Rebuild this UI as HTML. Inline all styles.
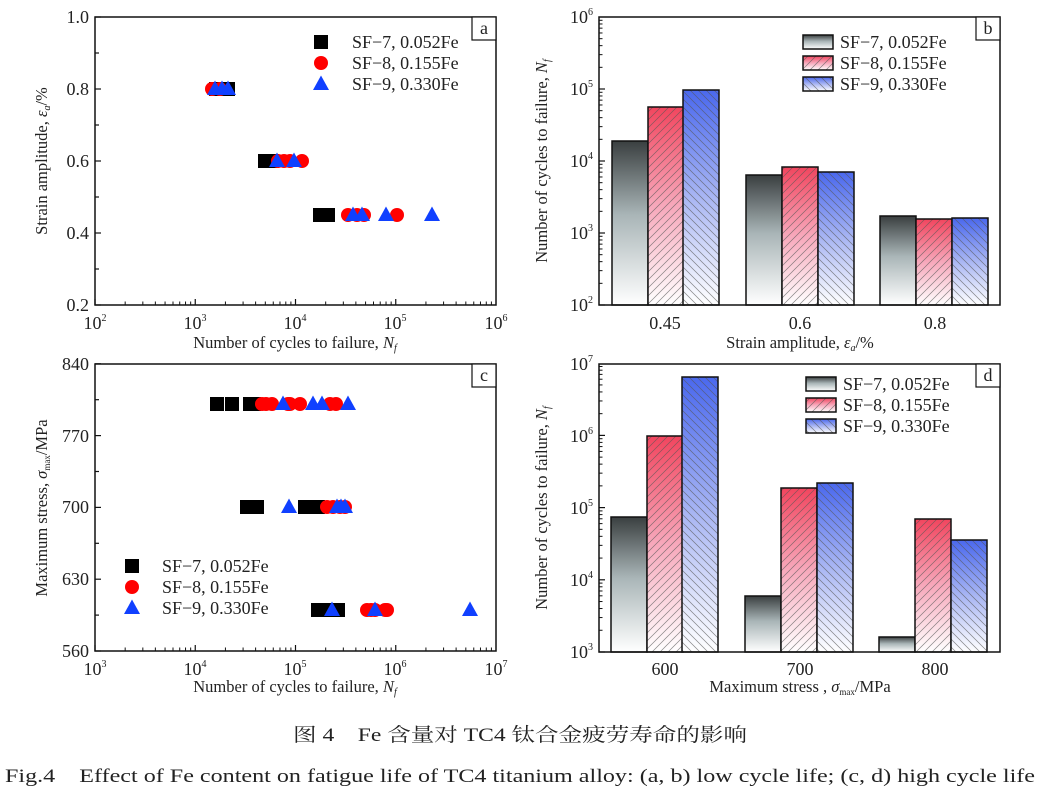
<!DOCTYPE html>
<html><head><meta charset="utf-8"><style>
html,body{margin:0;padding:0;background:#fff;}
svg{display:block;font-family:"Liberation Serif","Noto Serif CJK SC",serif;}
.t{font-size:18px;fill:#222;}
.ti{font-size:16.5px;fill:#222;}
.lg{font-size:18px;fill:#222;}
</style></head><body>
<svg id="s" width="1040" height="795" viewBox="0 0 1040 795" xmlns="http://www.w3.org/2000/svg">
<defs>
<linearGradient id="gk" x1="0" y1="0" x2="0" y2="1"><stop offset="0" stop-color="#3a3f40"/><stop offset="0.45" stop-color="#a9b5b7"/><stop offset="1" stop-color="#ffffff"/></linearGradient>
<linearGradient id="gr" x1="0" y1="0" x2="0" y2="1"><stop offset="0" stop-color="#f2455e"/><stop offset="0.5" stop-color="#f7a8bb"/><stop offset="1" stop-color="#ffffff"/></linearGradient>
<linearGradient id="gb" x1="0" y1="0" x2="0" y2="1"><stop offset="0" stop-color="#4a68ee"/><stop offset="0.5" stop-color="#a9b6f3"/><stop offset="1" stop-color="#ffffff"/></linearGradient>
<pattern id="hr" width="8" height="8" patternUnits="userSpaceOnUse"><path d="M-2,2 L2,-2 M0,8 L8,0 M6,10 L10,6" stroke="#555" stroke-width="0.7" opacity="0.7"/></pattern>
<pattern id="hb" width="8" height="8" patternUnits="userSpaceOnUse"><path d="M-2,6 L2,10 M0,0 L8,8 M6,-2 L10,2" stroke="#555" stroke-width="0.7" opacity="0.7"/></pattern>
</defs>
<g id="g"></g>

<!-- Panel a text -->
<g class="t" text-anchor="end">
<text x="89" y="23">1.0</text><text x="89" y="95">0.8</text><text x="89" y="167">0.6</text><text x="89" y="239">0.4</text><text x="89" y="311">0.2</text>
</g>
<g class="t" text-anchor="middle">
<text x="95" y="329">10<tspan font-size="10" dy="-8">2</tspan></text>
<text x="195" y="329">10<tspan font-size="10" dy="-8">3</tspan></text>
<text x="295" y="329">10<tspan font-size="10" dy="-8">4</tspan></text>
<text x="395" y="329">10<tspan font-size="10" dy="-8">5</tspan></text>
<text x="496" y="329">10<tspan font-size="10" dy="-8">6</tspan></text>
</g>
<text class="ti" x="295" y="348" text-anchor="middle">Number of cycles to failure, <tspan font-style="italic">N</tspan><tspan font-style="italic" font-size="10" dy="3">f</tspan></text>
<text class="ti" transform="translate(47,161) rotate(-90)" text-anchor="middle">Strain amplitude, <tspan font-style="italic">ε</tspan><tspan font-style="italic" font-size="10" dy="3">a</tspan><tspan dy="-3">/%</tspan></text>
<rect x="472" y="17" width="24" height="23" fill="#fff" stroke="#111" stroke-width="1.2"/>
<text class="t" x="484" y="34" text-anchor="middle">a</text>
<g class="lg"><text x="352" y="48">SF−7, 0.052Fe</text><text x="352" y="69">SF−8, 0.155Fe</text><text x="352" y="90">SF−9, 0.330Fe</text></g>

<!-- Panel b text -->
<g class="t" text-anchor="end">
<text x="593" y="23">10<tspan font-size="10" dy="-8">6</tspan></text>
<text x="593" y="95">10<tspan font-size="10" dy="-8">5</tspan></text>
<text x="593" y="167">10<tspan font-size="10" dy="-8">4</tspan></text>
<text x="593" y="239">10<tspan font-size="10" dy="-8">3</tspan></text>
<text x="593" y="311">10<tspan font-size="10" dy="-8">2</tspan></text>
</g>
<g class="t" text-anchor="middle"><text x="665" y="329">0.45</text><text x="800" y="329">0.6</text><text x="935" y="329">0.8</text></g>
<text class="ti" x="800" y="348" text-anchor="middle">Strain amplitude, <tspan font-style="italic">ε</tspan><tspan font-style="italic" font-size="10" dy="3">a</tspan><tspan dy="-3">/%</tspan></text>
<text class="ti" transform="translate(547,161) rotate(-90)" text-anchor="middle">Number of cycles to failure, <tspan font-style="italic">N</tspan><tspan font-style="italic" font-size="10" dy="3">f</tspan></text>
<text class="lg" x="840" y="48">SF−7, 0.052Fe</text><text class="lg" x="840" y="69">SF−8, 0.155Fe</text><text class="lg" x="840" y="90">SF−9, 0.330Fe</text>

<!-- Panel c text -->
<g class="t" text-anchor="end">
<text x="89" y="370">840</text><text x="89" y="442">770</text><text x="89" y="513">700</text><text x="89" y="585">630</text><text x="89" y="657">560</text>
</g>
<g class="t" text-anchor="middle">
<text x="95" y="675">10<tspan font-size="10" dy="-8">3</tspan></text>
<text x="195" y="675">10<tspan font-size="10" dy="-8">4</tspan></text>
<text x="295" y="675">10<tspan font-size="10" dy="-8">5</tspan></text>
<text x="395" y="675">10<tspan font-size="10" dy="-8">6</tspan></text>
<text x="496" y="675">10<tspan font-size="10" dy="-8">7</tspan></text>
</g>
<text class="ti" x="295" y="692" text-anchor="middle">Number of cycles to failure, <tspan font-style="italic">N</tspan><tspan font-style="italic" font-size="10" dy="3">f</tspan></text>
<text class="ti" transform="translate(47,508) rotate(-90)" text-anchor="middle">Maximum stress, <tspan font-style="italic">σ</tspan><tspan font-size="9" dy="3">max</tspan><tspan dy="-3">/MPa</tspan></text>
<g class="lg"><text x="162" y="572">SF−7, 0.052Fe</text><text x="162" y="593">SF−8, 0.155Fe</text><text x="162" y="614">SF−9, 0.330Fe</text></g>

<!-- Panel d text -->
<g class="t" text-anchor="end">
<text x="593" y="370">10<tspan font-size="10" dy="-8">7</tspan></text>
<text x="593" y="442">10<tspan font-size="10" dy="-8">6</tspan></text>
<text x="593" y="514">10<tspan font-size="10" dy="-8">5</tspan></text>
<text x="593" y="586">10<tspan font-size="10" dy="-8">4</tspan></text>
<text x="593" y="658">10<tspan font-size="10" dy="-8">3</tspan></text>
</g>
<g class="t" text-anchor="middle"><text x="665" y="675">600</text><text x="800" y="675">700</text><text x="935" y="675">800</text></g>
<text class="ti" x="800" y="692" text-anchor="middle">Maximum stress , <tspan font-style="italic">σ</tspan><tspan font-size="9" dy="3">max</tspan><tspan dy="-3">/MPa</tspan></text>
<text class="ti" transform="translate(547,508) rotate(-90)" text-anchor="middle">Number of cycles to failure, <tspan font-style="italic">N</tspan><tspan font-style="italic" font-size="10" dy="3">f</tspan></text>
<text class="lg" x="843" y="390">SF−7, 0.052Fe</text><text class="lg" x="843" y="411">SF−8, 0.155Fe</text><text class="lg" x="843" y="432">SF−9, 0.330Fe</text>

<!-- captions -->
<text x="293" y="741" font-size="19" textLength="454" lengthAdjust="spacingAndGlyphs" fill="#222">图 4　Fe 含量对 TC4 钛合金疲劳寿命的影响</text>
<text x="5" y="782" font-size="19" textLength="1030" lengthAdjust="spacingAndGlyphs" fill="#222">Fig.4　Effect of Fe content on fatigue life of TC4 titanium alloy: (a, b) low cycle life; (c, d) high cycle life</text>
</svg>
<script>
var g=document.getElementById('g'),h='';
function L(x1,y1,x2,y2,w){h+='<line x1="'+x1+'" y1="'+y1+'" x2="'+x2+'" y2="'+y2+'" stroke="#111" stroke-width="'+(w||1)+'"/>';}
function logTicksX(x0,y,px,dec){for(var d=0;d<dec;d++){L(x0+d*px,y,x0+d*px,y-6,1.2);for(var k=2;k<10;k++){var x=x0+(d+Math.log10(k))*px;L(x,y,x,y-3.5);}}}
function logTicksY(x,y0,px,dec){for(var d=0;d<dec;d++){var yb=y0-d*px;L(x,yb,x+6,yb,1.2);for(var k=2;k<10;k++){var yy=y0-(d+Math.log10(k))*px;L(x,yy,x+3.5,yy);}}}
logTicksX(95,305,100.25,4);
for(var i=0;i<=8;i++){var y=305-i*36;L(95,y,i%2?99:101,y,1.2);}
logTicksX(95,651,100.25,4);
for(var i=0;i<=8;i++){var y=651-i*35.9;L(95,y,i%2?99:101,y,1.2);}
logTicksY(599,305,72,4);
logTicksY(599,652,72.2,4);
function sq(x,y){h+='<rect x="'+(x-7)+'" y="'+(y-7)+'" width="14" height="14" fill="#000"/>';}
function ci(x,y){h+='<circle cx="'+x+'" cy="'+y+'" r="7" fill="#ff0000"/>';}
function tr(x,y){h+='<polygon points="'+x+','+(y-8.5)+' '+(x-8)+','+(y+6)+' '+(x+8)+','+(y+6)+'" fill="#1040ff"/>';}
[[216,89],[228,89],[265,161],[272,161],[320,215],[328,215]].forEach(function(p){sq(p[0],p[1]);});
[[212,89],[220,89],[278,161],[284,161],[290,161],[302,161],[348,215],[357,215],[364,215],[397,215]].forEach(function(p){ci(p[0],p[1]);});
[[215,89],[222,89],[228,89],[277,161],[294,161],[353,215],[362,215],[386,215],[432,215]].forEach(function(p){tr(p[0],p[1]);});
sq(321,42);ci(321,63);tr(321,84);
[[217,404],[232,404],[250,404],[254,404],[247,507],[257,507],[305,507],[318,507],[318,610],[338,610],[325,610]].forEach(function(p){sq(p[0],p[1]);});
[[262,404],[266,404],[272,404],[288,404],[290,404],[300,404],[330,404],[336,404],[327,507],[333,507],[340,507],[345,507],[367,610],[371,610],[375,610],[385,610],[387,610]].forEach(function(p){ci(p[0],p[1]);});
[[283,404],[313,404],[322,404],[348,404],[289,507],[337,507],[341,507],[345,507],[332,610],[375,610],[470,610]].forEach(function(p){tr(p[0],p[1]);});
sq(132,566);ci(132,587);tr(132,608);
function bar(x,w,top,bot,gr,hat){h+='<rect x="'+x+'" y="'+top+'" width="'+w+'" height="'+(bot-top)+'" fill="url(#'+gr+')"/>';if(hat)h+='<rect x="'+x+'" y="'+top+'" width="'+w+'" height="'+(bot-top)+'" fill="url(#'+hat+')"/>';h+='<rect x="'+x+'" y="'+top+'" width="'+w+'" height="'+(bot-top)+'" fill="none" stroke="#111" stroke-width="1.5"/>';}
var bx=[[612,648,683],[746,782,818],[880,916,952]];
var bt=[[141,107,90],[175,167,172],[216,219,218]];
var dt=[[517,436,377],[596,488,483],[637,519,540]];
var gs=['gk','gr','gb'],hs=[null,'hr','hb'];
for(var i=0;i<3;i++)for(var j=0;j<3;j++){bar(bx[i][j],36,bt[i][j],305,gs[j],hs[j]);bar(bx[i][j]-1,36,dt[i][j],652,gs[j],hs[j]);}
for(var j=0;j<3;j++){bar(803,30,35+j*21,49+j*21,gs[j],hs[j]);bar(806,30,377+j*21,391+j*21,gs[j],hs[j]);}
h+='<rect x="95" y="17" width="401" height="288" fill="none" stroke="#111" stroke-width="1.5"/>';
h+='<rect x="599" y="17" width="401" height="288" fill="none" stroke="#111" stroke-width="1.5"/>';
h+='<rect x="95" y="364" width="401" height="287" fill="none" stroke="#111" stroke-width="1.5"/>';
h+='<rect x="599" y="364" width="401" height="288" fill="none" stroke="#111" stroke-width="1.5"/>';
h+='<rect x="976" y="17" width="24" height="23" fill="#fff" stroke="#111" stroke-width="1.2"/>';
h+='<rect x="472" y="364" width="24" height="23" fill="#fff" stroke="#111" stroke-width="1.2"/>';
h+='<rect x="976" y="364" width="24" height="23" fill="#fff" stroke="#111" stroke-width="1.2"/>';
g.innerHTML=h;
</script>
<div style="position:absolute;left:0;top:0;width:1040px;height:795px;pointer-events:none">
<svg width="1040" height="795" style="position:absolute;left:0;top:0;font-family:'Liberation Serif',serif">
<text x="988" y="34" font-size="18" text-anchor="middle" fill="#222">b</text>
<text x="484" y="381" font-size="18" text-anchor="middle" fill="#222">c</text>
<text x="988" y="381" font-size="18" text-anchor="middle" fill="#222">d</text>
</svg></div>
</body></html>
